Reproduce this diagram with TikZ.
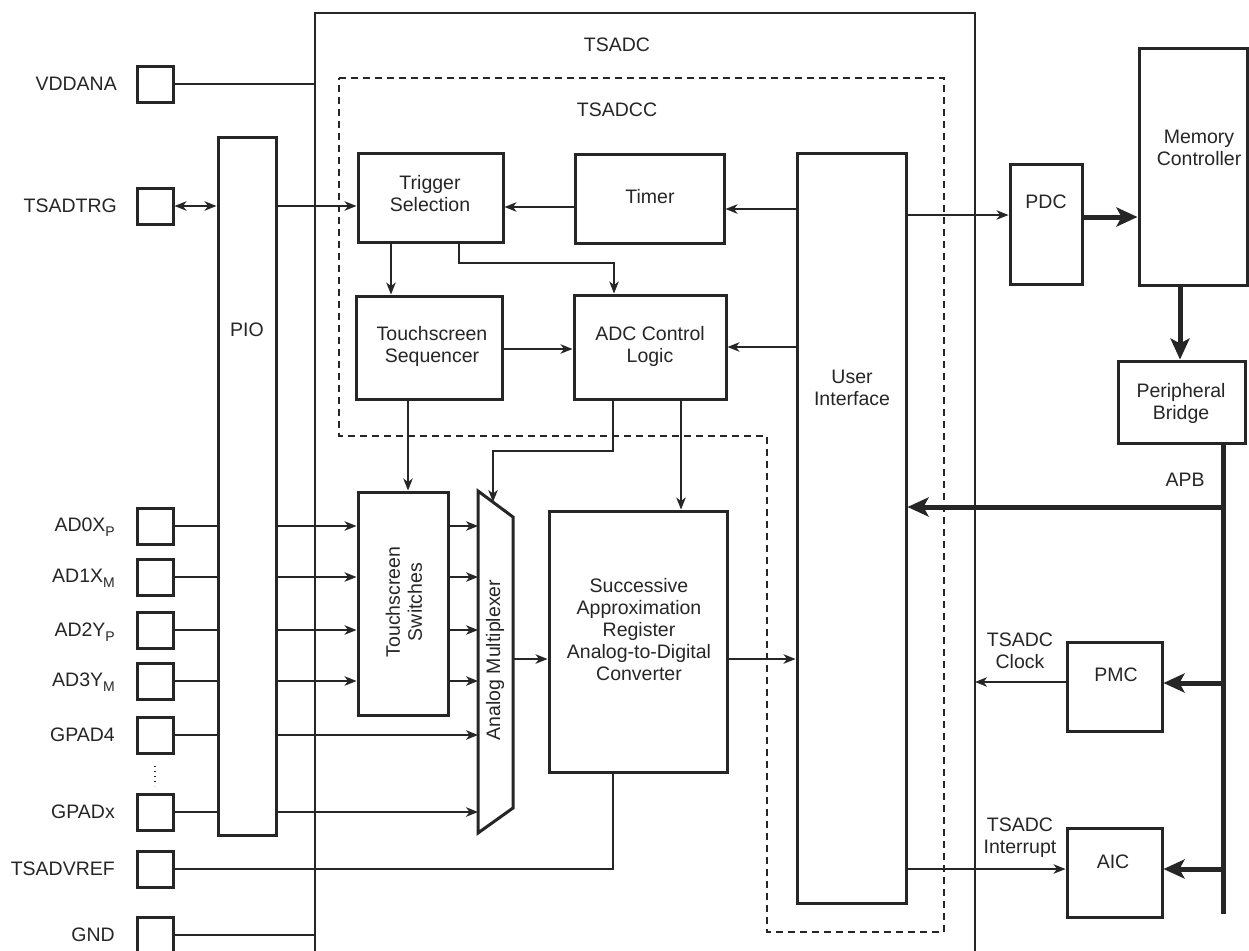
\documentclass[tikz,border=0pt]{standalone}
\usepackage{fontspec}
\setmainfont{Liberation Sans}
\usetikzlibrary{arrows.meta,calc}
\begin{document}
\begin{tikzpicture}[x=1pt,y=-1pt,
  txt/.style={font=\fontsize{19.5}{22}\selectfont, align=center, inner sep=0pt, text=black!85},
  box/.style={draw=black!85, line width=3pt, inner sep=0pt},
  pin/.style={box, minimum width=36, minimum height=36},
  thinl/.style={draw=black!85, line width=1.4pt},
  arr/.style={thinl, -{Stealth[length=12pt,width=9.5pt,inset=3.5pt]}},
  darr/.style={thinl, {Stealth[length=12pt,width=9.5pt,inset=3.5pt]}-{Stealth[length=12pt,width=9.5pt,inset=3.5pt]}},
  tarr/.style={draw=black!85, line width=5pt, -{Stealth[length=21pt,width=19pt,inset=5pt]}},
  busl/.style={draw=black!85, line width=5pt},
  dashbox/.style={draw=black!85, line width=2.8pt, dash pattern=on 7pt off 5pt},
  outerl/.style={draw=black!85, line width=2.4pt}]
\clip (0,0) rectangle (1249,950);
\fill[white] (0,0) rectangle (1249,950);

% outer TSADC box
\coordinate (tsL) at (315,13);
\coordinate (tsR) at (975,13);
\draw[outerl] (315,960) -- (tsL) -- (tsR) -- (975,960);
\node[txt] (tsadcT) at (617,45) {TSADC};

% dashed TSADCC
\draw[dashbox] (339,78) -- (944,78) -- (944,932) -- (767,932) -- (767,436) -- (339,436) -- cycle;
\node[txt] (tsadccT) at (617,110) {TSADCC};

% pins
\node[pin] (vdd)  at (155,84)  {};
\node[pin] (trg)  at (155,206) {};
\node[pin] (ad0)  at (155,526) {};
\node[pin] (ad1)  at (155,577) {};
\node[pin] (ad2)  at (155,630) {};
\node[pin] (ad3)  at (155,681) {};
\node[pin] (gp4)  at (155,735) {};
\node[pin] (gpx)  at (155,812) {};
\node[pin] (vref) at (155,869) {};
\node[pin] (gnd)  at (155,935) {};
\node[txt, anchor=east] (vddT)  at (117,84)  {VDDANA};
\node[txt, anchor=east] (trgT)  at (117,206) {TSADTRG};
\node[txt, anchor=east] (ad0T)  at (115,527) {AD0X\raisebox{-0.45ex}{\fontsize{14}{14}\selectfont P}};
\node[txt, anchor=east] (ad1T)  at (115,578) {AD1X\raisebox{-0.45ex}{\fontsize{14}{14}\selectfont M}};
\node[txt, anchor=east] (ad2T)  at (115,632) {AD2Y\raisebox{-0.45ex}{\fontsize{14}{14}\selectfont P}};
\node[txt, anchor=east] (ad3T)  at (115,682) {AD3Y\raisebox{-0.45ex}{\fontsize{14}{14}\selectfont M}};
\node[txt, anchor=east] (gp4T)  at (115,735) {GPAD4};
\node[txt, anchor=east] (gpxT)  at (115,812) {GPADx};
\node[txt, anchor=east] (vrefT) at (115,869) {TSADVREF};
\node[txt, anchor=east] (gndT)  at (115,935) {GND};
\draw[line width=1.4pt, black!85, dash pattern=on 1.4pt off 3.6pt] (155,766) -- (155,786);

% PIO
\node[box, minimum width=58, minimum height=698] (pio) at (247,486) {};
\node[txt] (pioT) at (247,330) {PIO};

% blocks
\node[box, minimum width=145, minimum height=89] (trig) at (430.5,197.5) {};
\node[txt] (trigT) at (430,194) {Trigger\\Selection};
\node[box, minimum width=149, minimum height=89] (timer) at (649.5,198.5) {};
\node[txt] (timerT) at (650,197) {Timer};
\node[box, minimum width=146, minimum height=103] (seq) at (429,347.5) {};
\node[txt] (seqT) at (432,346) {Touchscreen\\Sequencer};
\node[box, minimum width=152, minimum height=104] (adc) at (650,347) {};
\node[txt] (adcT) at (650,346) {ADC Control\\Logic};
\node[box, minimum width=109, minimum height=750] (ui) at (851.5,528) {};
\node[txt] (uiT) at (852,388) {User\\Interface};
\node[box, minimum width=90, minimum height=223] (sw) at (403,603.5) {};
\node[txt, rotate=90] (swT) at (404,602) {Touchscreen\\Switches};
\node[box, minimum width=178, minimum height=261] (sar) at (638,641.5) {};
\node[txt] (sarT) at (639,630) {Successive\\Approximation\\Register\\Analog-to-Digital\\Converter};

% mux
\draw[box] (478,491) -- (513,517) -- (513,808) -- (478,833) -- cycle;
\coordinate (muxTL) at (478,491);
\coordinate (muxIn) at (493,502);
\coordinate (muxO) at (513,659);
\node[txt, rotate=90] (muxT) at (495,660) {Analog Multiplexer};

% right side
\node[box, minimum width=72, minimum height=120] (pdc) at (1046,224) {};
\node[txt] (pdcT) at (1046,202) {PDC};
\node[box, minimum width=108, minimum height=236] (mc) at (1193,167) {};
\node[txt] (mcT) at (1199,148) {Memory\\Controller};
\node[box, minimum width=127, minimum height=82] (pb) at (1181.5,402) {};
\node[txt] (pbT) at (1181,403) {Peripheral\\Bridge};
\node[box, minimum width=95, minimum height=89] (pmc) at (1114.5,686.5) {};
\node[txt] (pmcT) at (1116,675) {PMC};
\node[box, minimum width=95, minimum height=89] (aic) at (1114.5,872.5) {};
\node[txt] (aicT) at (1113,862) {AIC};
\node[txt] (apbT) at (1185,480) {APB};
\node[txt] (clkT) at (1020,651) {TSADC\\Clock};
\node[txt] (intT) at (1020,838) {TSADC\\Interrupt};

% pin connections
\draw[thinl] (vdd.east) -- (tsL |- vdd.east);
\draw[darr] (trg.east) -- (pio.west |- trg.east);
\draw[arr] (pio.east |- trg.east) -- (trig.west |- trg.east);
\foreach \p in {ad0,ad1,ad2,ad3,gp4,gpx}{
  \draw[thinl] (\p.east) -- (pio.west |- \p.east);
}
\foreach \p in {ad0,ad1,ad2,ad3}{
  \draw[arr] (pio.east |- \p.east) -- (sw.west |- \p.east);
  \draw[arr] (sw.east |- \p.east) -- (muxTL |- \p.east);
}
\foreach \p in {gp4,gpx}{
  \draw[arr] (pio.east |- \p.east) -- (muxTL |- \p.east);
}
\draw[thinl] (vref.east) -| (sar.south -| 613,0);
\draw[thinl] (gnd.east) -- (tsL |- gnd.east);

% internal connections
\draw[arr] (timer.west |- 0,207) -- (trig.east |- 0,207);
\draw[arr] (ui.west |- 0,209) -- (timer.east |- 0,209);
\draw[arr] (trig.south -| 391,0) -- (seq.north -| 391,0);
\draw[arr] (trig.south -| 459,0) |- (614,263) -- (adc.north -| 614,0);
\draw[arr] (seq.east |- 0,349) -- (adc.west |- 0,349);
\draw[arr] (ui.west |- 0,347) -- (adc.east |- 0,347);
\draw[arr] (seq.south -| 408,0) -- (sw.north -| 408,0);
\draw[arr] (adc.south -| 613,0) |- (493,451) -- (muxIn);
\draw[arr] (adc.south -| 681,0) -- (sar.north -| 681,0);
\draw[arr] (muxO) -- (sar.west |- muxO);
\draw[arr] (sar.east |- muxO) -- (ui.west |- muxO);

% system side
\draw[arr] (ui.east |- 0,215) -- (pdc.west |- 0,215);
\draw[tarr] (pdc.east |- 0,217) -- (mc.west |- 0,217);
\draw[tarr] (mc.south -| 1180,0) -- (pb.north -| 1180,0);
\coordinate (busEnd) at (1223,914);
\draw[busl] (pb.south -| busEnd) -- (busEnd);
\draw[tarr] (busEnd |- 0,507) -- (ui.east |- 0,507);
\draw[tarr] (busEnd |- 0,683) -- (pmc.east |- 0,683);
\draw[tarr] (busEnd |- 0,869) -- (aic.east |- 0,869);
\draw[arr] (pmc.west |- 0,682) -- (tsR |- 0,682);
\draw[arr] (ui.east |- 0,869) -- (aic.west |- 0,869);
\end{tikzpicture}
\end{document}
